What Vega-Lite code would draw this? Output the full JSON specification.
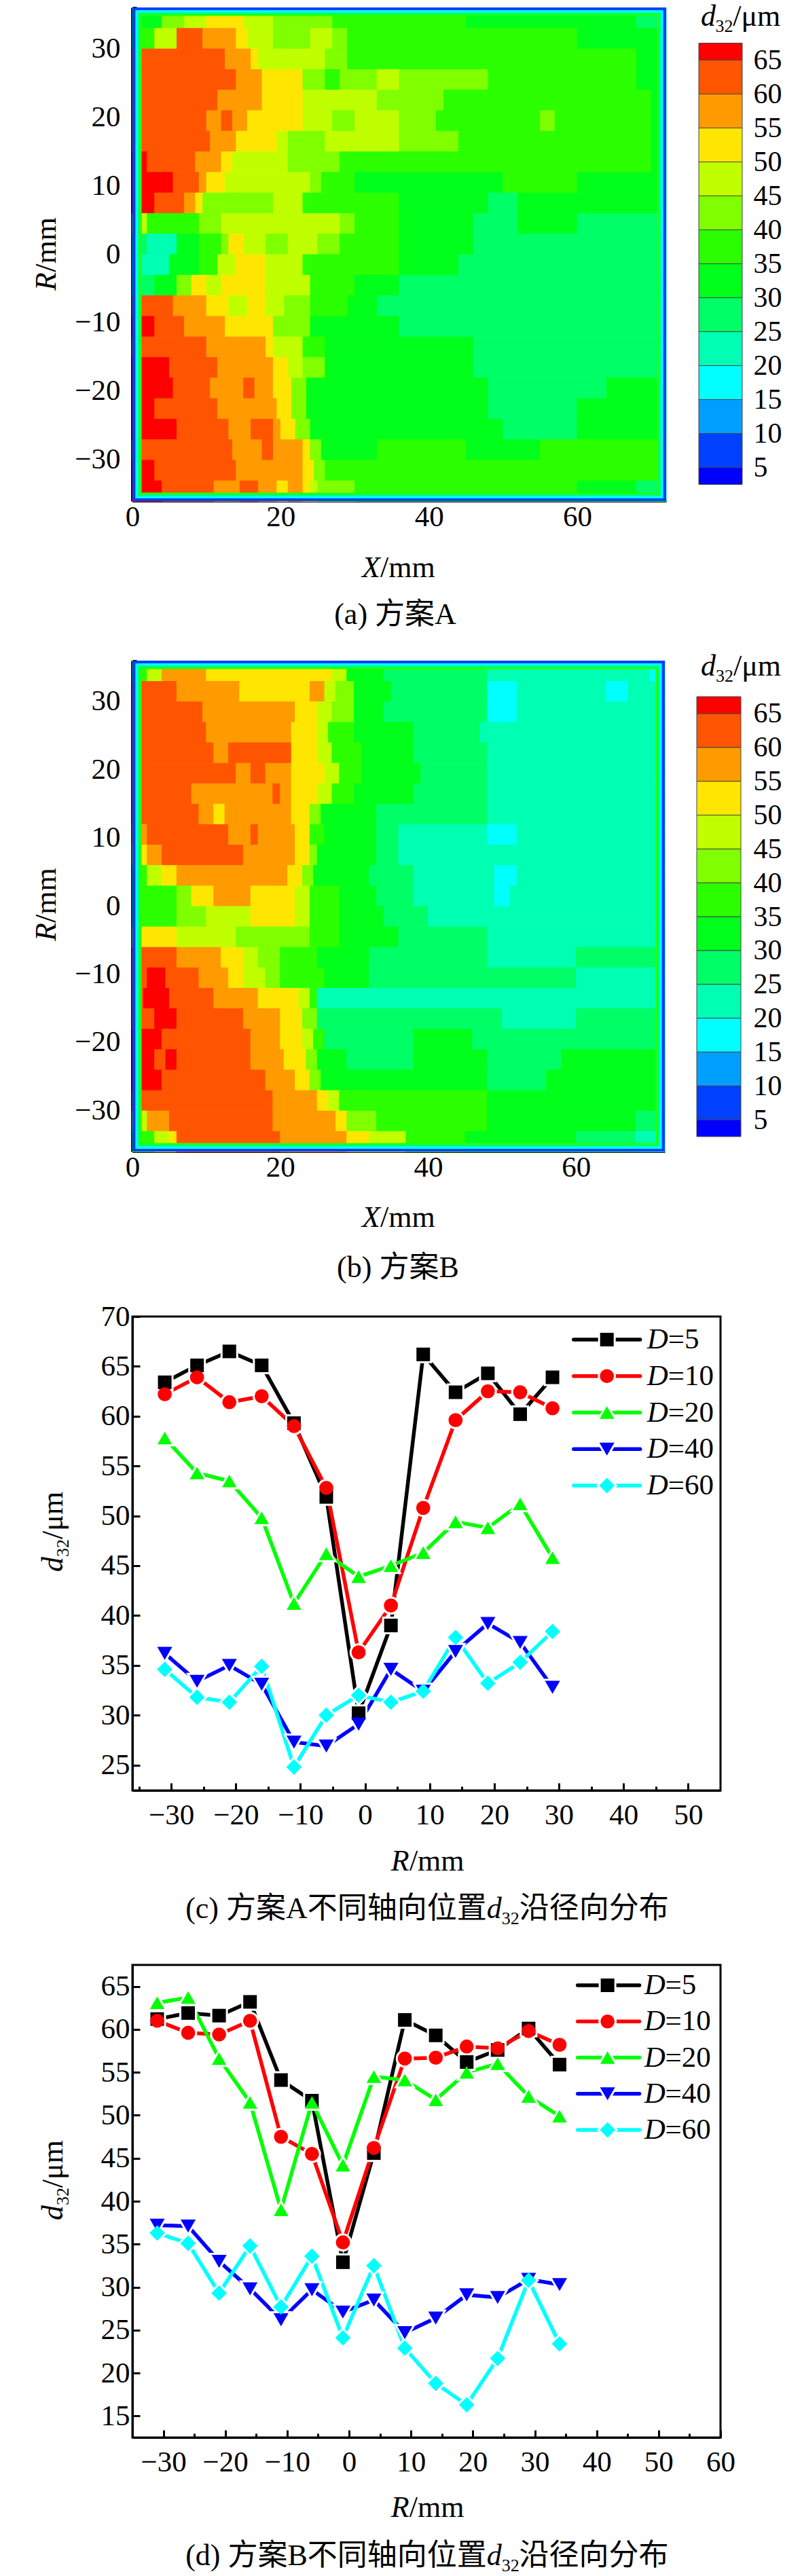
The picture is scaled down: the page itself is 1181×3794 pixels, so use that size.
{"$schema":"https://vega.github.io/schema/vega-lite/v6.json","background":"white","padding":{"left":30,"top":3,"right":0,"bottom":0},"spacing":0,"data":{"values":[{}]},
"config":{"view":{"stroke":null},"text":{"font":"Liberation Serif, Noto Sans CJK SC","fontSize":44,"baseline":"alphabetic","align":"left","color":"black"},"axis":{"labelFont":"Liberation Serif","labelFontSize":43,"labelColor":"black","domainColor":"black","tickColor":"black","tickWidth":3,"domainWidth":3,"grid":false,"title":null,"labelOverlap":false,"labelBound":false,"labelFlush":false,"zindex":1,"format":"d"}},
"datasets":{
"rticks":[{"t":30},{"t":20},{"t":10},{"t":0},{"t":-10},{"t":-20},{"t":-30}],
"heatA":[
{"x":0,"x2":4,"y":33,"v":32},{"x":4,"x2":7,"y":33,"v":42},{"x":7,"x2":10,"y":33,"v":47},{"x":10,"x2":15,"y":33,"v":52},{"x":15,"x2":19,"y":33,"v":47},{"x":19,"x2":27,"y":33,"v":42},{"x":27,"x2":45,"y":33,"v":37},{"x":45,"x2":68,"y":33,"v":32},{"x":68,"x2":72,"y":33,"v":27},
{"x":0,"x2":3,"y":30,"v":37},{"x":3,"x2":6,"y":30,"v":47},{"x":6,"x2":9.5,"y":30,"v":62},{"x":9.5,"x2":14,"y":30,"v":57},{"x":14,"x2":15.5,"y":30,"v":52},{"x":15.5,"x2":19,"y":30,"v":47},{"x":19,"x2":24,"y":30,"v":42},{"x":24,"x2":27,"y":30,"v":47},{"x":27,"x2":29,"y":30,"v":42},{"x":29,"x2":60,"y":30,"v":37},{"x":60,"x2":72,"y":30,"v":32},
{"x":0,"x2":12.5,"y":27,"v":62},{"x":12.5,"x2":16,"y":27,"v":57},{"x":16,"x2":17,"y":27,"v":52},{"x":17,"x2":26,"y":27,"v":47},{"x":26,"x2":29,"y":27,"v":42},{"x":29,"x2":68,"y":27,"v":37},{"x":68,"x2":72,"y":27,"v":32},
{"x":0,"x2":14,"y":24,"v":62},{"x":14,"x2":17.5,"y":24,"v":57},{"x":17.5,"x2":23,"y":24,"v":52},{"x":23,"x2":26,"y":24,"v":42},{"x":26,"x2":28,"y":24,"v":37},{"x":28,"x2":33,"y":24,"v":42},{"x":33,"x2":36,"y":24,"v":47},{"x":36,"x2":48,"y":24,"v":42},{"x":48,"x2":68,"y":24,"v":37},{"x":68,"x2":72,"y":24,"v":32},
{"x":0,"x2":11.5,"y":21,"v":62},{"x":11.5,"x2":17.5,"y":21,"v":57},{"x":17.5,"x2":23,"y":21,"v":52},{"x":23,"x2":33,"y":21,"v":47},{"x":33,"x2":42,"y":21,"v":42},{"x":42,"x2":70,"y":21,"v":37},{"x":70,"x2":72,"y":21,"v":32},
{"x":0,"x2":10,"y":18,"v":62},{"x":10,"x2":12,"y":18,"v":57},{"x":12,"x2":13.5,"y":18,"v":62},{"x":13.5,"x2":15.5,"y":18,"v":57},{"x":15.5,"x2":23,"y":18,"v":52},{"x":23,"x2":27,"y":18,"v":47},{"x":27,"x2":30,"y":18,"v":42},{"x":30,"x2":36,"y":18,"v":47},{"x":36,"x2":41,"y":18,"v":42},{"x":41,"x2":55,"y":18,"v":37},{"x":55,"x2":57,"y":18,"v":42},{"x":57,"x2":70,"y":18,"v":37},{"x":70,"x2":72,"y":18,"v":32},
{"x":0,"x2":10.5,"y":15,"v":62},{"x":10.5,"x2":14,"y":15,"v":57},{"x":14,"x2":19.5,"y":15,"v":52},{"x":19.5,"x2":21,"y":15,"v":47},{"x":21,"x2":26,"y":15,"v":42},{"x":26,"x2":36,"y":15,"v":47},{"x":36,"x2":44,"y":15,"v":42},{"x":44,"x2":70,"y":15,"v":37},{"x":70,"x2":72,"y":15,"v":32},
{"x":0,"x2":2,"y":12,"v":66},{"x":2,"x2":8.5,"y":12,"v":62},{"x":8.5,"x2":12,"y":12,"v":57},{"x":12,"x2":13.5,"y":12,"v":52},{"x":13.5,"x2":21,"y":12,"v":47},{"x":21,"x2":28,"y":12,"v":42},{"x":28,"x2":70,"y":12,"v":37},{"x":70,"x2":72,"y":12,"v":32},
{"x":0,"x2":5.5,"y":9,"v":66},{"x":5.5,"x2":9,"y":9,"v":62},{"x":9,"x2":10,"y":9,"v":57},{"x":10,"x2":12.5,"y":9,"v":52},{"x":12.5,"x2":24,"y":9,"v":47},{"x":24,"x2":25.5,"y":9,"v":42},{"x":25.5,"x2":30,"y":9,"v":37},{"x":30,"x2":50,"y":9,"v":32},{"x":50,"x2":60,"y":9,"v":37},{"x":60,"x2":72,"y":9,"v":32},
{"x":0,"x2":3,"y":6,"v":66},{"x":3,"x2":7,"y":6,"v":62},{"x":7,"x2":8.5,"y":6,"v":57},{"x":8.5,"x2":9.5,"y":6,"v":52},{"x":9.5,"x2":19,"y":6,"v":42},{"x":19,"x2":23,"y":6,"v":47},{"x":23,"x2":36,"y":6,"v":37},{"x":36,"x2":48,"y":6,"v":32},{"x":48,"x2":52,"y":6,"v":27},{"x":52,"x2":72,"y":6,"v":32},
{"x":0,"x2":2,"y":3,"v":47},{"x":2,"x2":9,"y":3,"v":37},{"x":9,"x2":12,"y":3,"v":42},{"x":12,"x2":28,"y":3,"v":47},{"x":28,"x2":30,"y":3,"v":42},{"x":30,"x2":36,"y":3,"v":37},{"x":36,"x2":46,"y":3,"v":32},{"x":46,"x2":52,"y":3,"v":27},{"x":52,"x2":60,"y":3,"v":32},{"x":60,"x2":72,"y":3,"v":27},
{"x":0,"x2":2,"y":0,"v":27},{"x":2,"x2":6,"y":0,"v":22},{"x":6,"x2":9,"y":0,"v":32},{"x":9,"x2":12,"y":0,"v":37},{"x":12,"x2":13,"y":0,"v":42},{"x":13,"x2":15,"y":0,"v":52},{"x":15,"x2":18,"y":0,"v":47},{"x":18,"x2":21,"y":0,"v":42},{"x":21,"x2":25,"y":0,"v":47},{"x":25,"x2":28,"y":0,"v":42},{"x":28,"x2":36,"y":0,"v":37},{"x":36,"x2":46,"y":0,"v":32},{"x":46,"x2":72,"y":0,"v":27},
{"x":0,"x2":5,"y":-3,"v":22},{"x":5,"x2":9,"y":-3,"v":32},{"x":9,"x2":11.5,"y":-3,"v":37},{"x":11.5,"x2":14,"y":-3,"v":47},{"x":14,"x2":18,"y":-3,"v":52},{"x":18,"x2":23,"y":-3,"v":47},{"x":23,"x2":36,"y":-3,"v":37},{"x":36,"x2":44,"y":-3,"v":32},{"x":44,"x2":72,"y":-3,"v":27},
{"x":0,"x2":3,"y":-6,"v":27},{"x":3,"x2":6,"y":-6,"v":32},{"x":6,"x2":8,"y":-6,"v":42},{"x":8,"x2":10,"y":-6,"v":52},{"x":10,"x2":12,"y":-6,"v":47},{"x":12,"x2":18,"y":-6,"v":52},{"x":18,"x2":24,"y":-6,"v":47},{"x":24,"x2":30,"y":-6,"v":37},{"x":30,"x2":36,"y":-6,"v":32},{"x":36,"x2":72,"y":-6,"v":27},
{"x":0,"x2":5.5,"y":-9,"v":62},{"x":5.5,"x2":10,"y":-9,"v":57},{"x":10,"x2":13,"y":-9,"v":52},{"x":13,"x2":15.5,"y":-9,"v":47},{"x":15.5,"x2":18,"y":-9,"v":52},{"x":18,"x2":20.5,"y":-9,"v":47},{"x":20.5,"x2":24,"y":-9,"v":42},{"x":24,"x2":29,"y":-9,"v":37},{"x":29,"x2":33,"y":-9,"v":32},{"x":33,"x2":72,"y":-9,"v":27},
{"x":0,"x2":3,"y":-12,"v":66},{"x":3,"x2":7,"y":-12,"v":62},{"x":7,"x2":12.5,"y":-12,"v":57},{"x":12.5,"x2":19,"y":-12,"v":52},{"x":19,"x2":24,"y":-12,"v":42},{"x":24,"x2":36,"y":-12,"v":32},{"x":36,"x2":72,"y":-12,"v":27},
{"x":0,"x2":10,"y":-15,"v":62},{"x":10,"x2":18,"y":-15,"v":57},{"x":18,"x2":19,"y":-15,"v":52},{"x":19,"x2":23,"y":-15,"v":47},{"x":23,"x2":26,"y":-15,"v":37},{"x":26,"x2":46,"y":-15,"v":32},{"x":46,"x2":72,"y":-15,"v":27},
{"x":0,"x2":5,"y":-18,"v":66},{"x":5,"x2":11.5,"y":-18,"v":62},{"x":11.5,"x2":19,"y":-18,"v":57},{"x":19,"x2":21,"y":-18,"v":52},{"x":21,"x2":23,"y":-18,"v":47},{"x":23,"x2":26,"y":-18,"v":42},{"x":26,"x2":46,"y":-18,"v":32},{"x":46,"x2":72,"y":-18,"v":27},
{"x":0,"x2":5.5,"y":-21,"v":66},{"x":5.5,"x2":10.5,"y":-21,"v":62},{"x":10.5,"x2":15,"y":-21,"v":57},{"x":15,"x2":16.5,"y":-21,"v":62},{"x":16.5,"x2":19,"y":-21,"v":57},{"x":19,"x2":21.5,"y":-21,"v":52},{"x":21.5,"x2":23.5,"y":-21,"v":42},{"x":23.5,"x2":48,"y":-21,"v":32},{"x":48,"x2":64,"y":-21,"v":27},{"x":64,"x2":72,"y":-21,"v":32},
{"x":0,"x2":3,"y":-24,"v":66},{"x":3,"x2":11.5,"y":-24,"v":62},{"x":11.5,"x2":19.5,"y":-24,"v":57},{"x":19.5,"x2":21.5,"y":-24,"v":52},{"x":21.5,"x2":23.5,"y":-24,"v":42},{"x":23.5,"x2":48,"y":-24,"v":32},{"x":48,"x2":60,"y":-24,"v":27},{"x":60,"x2":72,"y":-24,"v":32},
{"x":0,"x2":6,"y":-27,"v":66},{"x":6,"x2":13,"y":-27,"v":62},{"x":13,"x2":16,"y":-27,"v":57},{"x":16,"x2":19,"y":-27,"v":62},{"x":19,"x2":20,"y":-27,"v":57},{"x":20,"x2":22,"y":-27,"v":52},{"x":22,"x2":24,"y":-27,"v":42},{"x":24,"x2":50,"y":-27,"v":32},{"x":50,"x2":60,"y":-27,"v":27},{"x":60,"x2":72,"y":-27,"v":32},
{"x":0,"x2":13.5,"y":-30,"v":62},{"x":13.5,"x2":17.5,"y":-30,"v":57},{"x":17.5,"x2":19,"y":-30,"v":62},{"x":19,"x2":23,"y":-30,"v":57},{"x":23,"x2":24,"y":-30,"v":52},{"x":24,"x2":25.5,"y":-30,"v":42},{"x":25.5,"x2":33,"y":-30,"v":32},{"x":33,"x2":45,"y":-30,"v":37},{"x":45,"x2":55,"y":-30,"v":32},{"x":55,"x2":72,"y":-30,"v":37},
{"x":0,"x2":3,"y":-33,"v":66},{"x":3,"x2":14,"y":-33,"v":62},{"x":14,"x2":23,"y":-33,"v":57},{"x":23,"x2":24.5,"y":-33,"v":52},{"x":24.5,"x2":26,"y":-33,"v":42},{"x":26,"x2":72,"y":-33,"v":37},
{"x":0,"x2":4,"y":-36,"v":66},{"x":4,"x2":11,"y":-36,"v":62},{"x":11,"x2":14.5,"y":-36,"v":57},{"x":14.5,"x2":17,"y":-36,"v":62},{"x":17,"x2":19.5,"y":-36,"v":57},{"x":19.5,"x2":21,"y":-36,"v":52},{"x":21,"x2":23,"y":-36,"v":57},{"x":23,"x2":24,"y":-36,"v":52},{"x":24,"x2":25,"y":-36,"v":47},{"x":25,"x2":30,"y":-36,"v":42},{"x":30,"x2":60,"y":-36,"v":37},{"x":60,"x2":68,"y":-36,"v":32},{"x":68,"x2":72,"y":-36,"v":27}],
"heatB":[
{"x":0,"x2":2,"y":33,"v":37},{"x":2,"x2":4,"y":33,"v":47},{"x":4,"x2":10,"y":33,"v":57},{"x":10,"x2":27,"y":33,"v":52},{"x":27,"x2":29,"y":33,"v":47},{"x":29,"x2":34,"y":33,"v":32},{"x":34,"x2":48,"y":33,"v":27},{"x":48,"x2":70,"y":33,"v":22},{"x":70,"x2":72,"y":33,"v":17},
{"x":0,"x2":6,"y":30,"v":62},{"x":6,"x2":14.5,"y":30,"v":57},{"x":14.5,"x2":24,"y":30,"v":52},{"x":24,"x2":26,"y":30,"v":57},{"x":26,"x2":27.5,"y":30,"v":47},{"x":27.5,"x2":30,"y":30,"v":42},{"x":30,"x2":35,"y":30,"v":32},{"x":35,"x2":48,"y":30,"v":27},{"x":48,"x2":52,"y":30,"v":17},{"x":52,"x2":64,"y":30,"v":22},{"x":64,"x2":67,"y":30,"v":17},{"x":67,"x2":72,"y":30,"v":22},
{"x":0,"x2":9.5,"y":27,"v":62},{"x":9.5,"x2":22,"y":27,"v":57},{"x":22,"x2":25,"y":27,"v":52},{"x":25,"x2":27,"y":27,"v":47},{"x":27,"x2":30,"y":27,"v":42},{"x":30,"x2":34,"y":27,"v":32},{"x":34,"x2":48,"y":27,"v":27},{"x":48,"x2":52,"y":27,"v":17},{"x":52,"x2":72,"y":27,"v":22},
{"x":0,"x2":10,"y":24,"v":62},{"x":10,"x2":21.5,"y":24,"v":57},{"x":21.5,"x2":25,"y":24,"v":52},{"x":25,"x2":26.5,"y":24,"v":47},{"x":26.5,"x2":30,"y":24,"v":37},{"x":30,"x2":38,"y":24,"v":32},{"x":38,"x2":47,"y":24,"v":27},{"x":47,"x2":72,"y":24,"v":22},
{"x":0,"x2":11,"y":21,"v":62},{"x":11,"x2":13,"y":21,"v":57},{"x":13,"x2":21.5,"y":21,"v":62},{"x":21.5,"x2":25,"y":21,"v":52},{"x":25,"x2":27,"y":21,"v":47},{"x":27,"x2":31,"y":21,"v":37},{"x":31,"x2":38,"y":21,"v":32},{"x":38,"x2":48,"y":21,"v":27},{"x":48,"x2":72,"y":21,"v":22},
{"x":0,"x2":14,"y":18,"v":62},{"x":14,"x2":16,"y":18,"v":57},{"x":16,"x2":18,"y":18,"v":62},{"x":18,"x2":21.5,"y":18,"v":57},{"x":21.5,"x2":26,"y":18,"v":52},{"x":26,"x2":28,"y":18,"v":47},{"x":28,"x2":31,"y":18,"v":37},{"x":31,"x2":39,"y":18,"v":32},{"x":39,"x2":48,"y":18,"v":27},{"x":48,"x2":72,"y":18,"v":22},
{"x":0,"x2":8,"y":15,"v":62},{"x":8,"x2":19,"y":15,"v":57},{"x":19,"x2":20,"y":15,"v":62},{"x":20,"x2":21.5,"y":15,"v":57},{"x":21.5,"x2":25,"y":15,"v":52},{"x":25,"x2":27,"y":15,"v":47},{"x":27,"x2":30,"y":15,"v":37},{"x":30,"x2":38,"y":15,"v":32},{"x":38,"x2":48,"y":15,"v":27},{"x":48,"x2":72,"y":15,"v":22},
{"x":0,"x2":9,"y":12,"v":62},{"x":9,"x2":11,"y":12,"v":57},{"x":11,"x2":12.5,"y":12,"v":52},{"x":12.5,"x2":21.5,"y":12,"v":57},{"x":21.5,"x2":24,"y":12,"v":52},{"x":24,"x2":25.5,"y":12,"v":42},{"x":25.5,"x2":33,"y":12,"v":32},{"x":33,"x2":48,"y":12,"v":27},{"x":48,"x2":72,"y":12,"v":22},
{"x":0,"x2":2,"y":9,"v":57},{"x":2,"x2":13,"y":9,"v":62},{"x":13,"x2":16,"y":9,"v":57},{"x":16,"x2":17,"y":9,"v":62},{"x":17,"x2":22,"y":9,"v":57},{"x":22,"x2":24,"y":9,"v":52},{"x":24,"x2":26,"y":9,"v":37},{"x":26,"x2":33,"y":9,"v":32},{"x":33,"x2":36,"y":9,"v":27},{"x":36,"x2":48,"y":9,"v":22},{"x":48,"x2":52,"y":9,"v":17},{"x":52,"x2":72,"y":9,"v":22},
{"x":0,"x2":2,"y":6,"v":52},{"x":2,"x2":4,"y":6,"v":57},{"x":4,"x2":15,"y":6,"v":62},{"x":15,"x2":22,"y":6,"v":57},{"x":22,"x2":24,"y":6,"v":52},{"x":24,"x2":25,"y":6,"v":42},{"x":25,"x2":33,"y":6,"v":32},{"x":33,"x2":36,"y":6,"v":27},{"x":36,"x2":72,"y":6,"v":22},
{"x":0,"x2":2,"y":3,"v":37},{"x":2,"x2":4,"y":3,"v":47},{"x":4,"x2":6,"y":3,"v":52},{"x":6,"x2":21,"y":3,"v":57},{"x":21,"x2":23,"y":3,"v":52},{"x":23,"x2":24.5,"y":3,"v":42},{"x":24.5,"x2":32,"y":3,"v":32},{"x":32,"x2":38,"y":3,"v":27},{"x":38,"x2":49,"y":3,"v":22},{"x":49,"x2":52,"y":3,"v":17},{"x":52,"x2":72,"y":3,"v":22},
{"x":0,"x2":6,"y":0,"v":37},{"x":6,"x2":8,"y":0,"v":42},{"x":8,"x2":11,"y":0,"v":52},{"x":11,"x2":16,"y":0,"v":57},{"x":16,"x2":22,"y":0,"v":52},{"x":22,"x2":24,"y":0,"v":47},{"x":24,"x2":28,"y":0,"v":37},{"x":28,"x2":33,"y":0,"v":32},{"x":33,"x2":38,"y":0,"v":27},{"x":38,"x2":49,"y":0,"v":22},{"x":49,"x2":51,"y":0,"v":17},{"x":51,"x2":72,"y":0,"v":22},
{"x":0,"x2":6,"y":-3,"v":37},{"x":6,"x2":10,"y":-3,"v":42},{"x":10,"x2":16,"y":-3,"v":47},{"x":16,"x2":22,"y":-3,"v":52},{"x":22,"x2":24,"y":-3,"v":47},{"x":24,"x2":28,"y":-3,"v":37},{"x":28,"x2":34,"y":-3,"v":32},{"x":34,"x2":40,"y":-3,"v":27},{"x":40,"x2":72,"y":-3,"v":22},
{"x":0,"x2":6,"y":-6,"v":52},{"x":6,"x2":14,"y":-6,"v":47},{"x":14,"x2":24,"y":-6,"v":42},{"x":24,"x2":28,"y":-6,"v":37},{"x":28,"x2":36,"y":-6,"v":32},{"x":36,"x2":48,"y":-6,"v":27},{"x":48,"x2":72,"y":-6,"v":22},
{"x":0,"x2":6,"y":-9,"v":62},{"x":6,"x2":12,"y":-9,"v":57},{"x":12,"x2":15,"y":-9,"v":52},{"x":15,"x2":17,"y":-9,"v":47},{"x":17,"x2":20,"y":-9,"v":42},{"x":20,"x2":25,"y":-9,"v":37},{"x":25,"x2":32,"y":-9,"v":32},{"x":32,"x2":48,"y":-9,"v":27},{"x":48,"x2":60,"y":-9,"v":22},{"x":60,"x2":72,"y":-9,"v":27},
{"x":0,"x2":2,"y":-12,"v":62},{"x":2,"x2":4.5,"y":-12,"v":66},{"x":4.5,"x2":9,"y":-12,"v":62},{"x":9,"x2":13,"y":-12,"v":57},{"x":13,"x2":15,"y":-12,"v":52},{"x":15,"x2":18,"y":-12,"v":47},{"x":18,"x2":20,"y":-12,"v":42},{"x":20,"x2":26,"y":-12,"v":37},{"x":26,"x2":32,"y":-12,"v":32},{"x":32,"x2":60,"y":-12,"v":27},{"x":60,"x2":72,"y":-12,"v":22},
{"x":0,"x2":1.5,"y":-15,"v":62},{"x":1.5,"x2":5,"y":-15,"v":66},{"x":5,"x2":11,"y":-15,"v":62},{"x":11,"x2":17,"y":-15,"v":57},{"x":17,"x2":22.5,"y":-15,"v":52},{"x":22.5,"x2":24,"y":-15,"v":47},{"x":24,"x2":25,"y":-15,"v":37},{"x":25,"x2":72,"y":-15,"v":22},
{"x":0,"x2":3,"y":-18,"v":62},{"x":3,"x2":6,"y":-18,"v":66},{"x":6,"x2":15,"y":-18,"v":62},{"x":15,"x2":20,"y":-18,"v":57},{"x":20,"x2":23,"y":-18,"v":52},{"x":23,"x2":25,"y":-18,"v":42},{"x":25,"x2":50,"y":-18,"v":27},{"x":50,"x2":60,"y":-18,"v":22},{"x":60,"x2":72,"y":-18,"v":27},
{"x":0,"x2":4,"y":-21,"v":66},{"x":4,"x2":16,"y":-21,"v":62},{"x":16,"x2":20,"y":-21,"v":57},{"x":20,"x2":23,"y":-21,"v":52},{"x":23,"x2":24.5,"y":-21,"v":47},{"x":24.5,"x2":26,"y":-21,"v":37},{"x":26,"x2":38,"y":-21,"v":27},{"x":38,"x2":46,"y":-21,"v":32},{"x":46,"x2":72,"y":-21,"v":27},
{"x":0,"x2":3,"y":-24,"v":66},{"x":3,"x2":4.5,"y":-24,"v":62},{"x":4.5,"x2":6,"y":-24,"v":66},{"x":6,"x2":16,"y":-24,"v":62},{"x":16,"x2":20.5,"y":-24,"v":57},{"x":20.5,"x2":23.5,"y":-24,"v":52},{"x":23.5,"x2":25,"y":-24,"v":42},{"x":25,"x2":29,"y":-24,"v":32},{"x":29,"x2":38,"y":-24,"v":27},{"x":38,"x2":48,"y":-24,"v":32},{"x":48,"x2":58,"y":-24,"v":27},{"x":58,"x2":72,"y":-24,"v":32},
{"x":0,"x2":4,"y":-27,"v":66},{"x":4,"x2":18,"y":-27,"v":62},{"x":18,"x2":22,"y":-27,"v":57},{"x":22,"x2":24,"y":-27,"v":52},{"x":24,"x2":25.5,"y":-27,"v":42},{"x":25.5,"x2":48,"y":-27,"v":32},{"x":48,"x2":56,"y":-27,"v":27},{"x":56,"x2":72,"y":-27,"v":32},
{"x":0,"x2":19,"y":-30,"v":62},{"x":19,"x2":25,"y":-30,"v":57},{"x":25,"x2":26.5,"y":-30,"v":52},{"x":26.5,"x2":28,"y":-30,"v":47},{"x":28,"x2":48,"y":-30,"v":37},{"x":48,"x2":72,"y":-30,"v":32},
{"x":0,"x2":2,"y":-33,"v":47},{"x":2,"x2":5,"y":-33,"v":57},{"x":5,"x2":19,"y":-33,"v":62},{"x":19,"x2":27.5,"y":-33,"v":57},{"x":27.5,"x2":29,"y":-33,"v":52},{"x":29,"x2":33,"y":-33,"v":42},{"x":33,"x2":48,"y":-33,"v":37},{"x":48,"x2":68,"y":-33,"v":32},{"x":68,"x2":72,"y":-33,"v":27},
{"x":0,"x2":3,"y":-36,"v":37},{"x":3,"x2":5,"y":-36,"v":47},{"x":5,"x2":6,"y":-36,"v":52},{"x":6,"x2":20,"y":-36,"v":62},{"x":20,"x2":29,"y":-36,"v":57},{"x":29,"x2":32,"y":-36,"v":52},{"x":32,"x2":37,"y":-36,"v":47},{"x":37,"x2":45,"y":-36,"v":37},{"x":45,"x2":60,"y":-36,"v":32},{"x":60,"x2":68,"y":-36,"v":27},{"x":68,"x2":72,"y":-36,"v":22}],
"rim":[{"x":0,"x2":1.25,"y":-36,"y2":36,"v":37},{"x":70.75,"x2":72,"y":-36,"y2":36,"v":37},{"x":0,"x2":72,"y":34.75,"y2":36,"v":37},{"x":0,"x2":72,"y":-36,"y2":-34.75,"v":37},{"x":0,"x2":1.05,"y":-36,"y2":36,"v":27},{"x":70.95,"x2":72,"y":-36,"y2":36,"v":27},{"x":0,"x2":72,"y":34.95,"y2":36,"v":27},{"x":0,"x2":72,"y":-36,"y2":-34.95,"v":27},{"x":0,"x2":0.75,"y":-36,"y2":36,"v":17},{"x":71.25,"x2":72,"y":-36,"y2":36,"v":17},{"x":0,"x2":72,"y":35.25,"y2":36,"v":17},{"x":0,"x2":72,"y":-36,"y2":-35.25,"v":17},{"x":0,"x2":0.4,"y":-36,"y2":36,"v":7},{"x":71.6,"x2":72,"y":-36,"y2":36,"v":7},{"x":0,"x2":72,"y":35.6,"y2":36,"v":7},{"x":0,"x2":72,"y":-36,"y2":-35.6,"v":7}],
"bands":[{"lo":2.5,"hi":5,"v":3},{"lo":5,"hi":10,"v":7},{"lo":10,"hi":15,"v":12},{"lo":15,"hi":20,"v":17},{"lo":20,"hi":25,"v":22},{"lo":25,"hi":30,"v":27},{"lo":30,"hi":35,"v":32},{"lo":35,"hi":40,"v":37},{"lo":40,"hi":45,"v":42},{"lo":45,"hi":50,"v":47},{"lo":50,"hi":55,"v":52},{"lo":55,"hi":60,"v":57},{"lo":60,"hi":65,"v":62},{"lo":65,"hi":67.5,"v":66}],
"keys":[{"D":"D=5","eq":"=5"},{"D":"D=10","eq":"=10"},{"D":"D=20","eq":"=20"},{"D":"D=40","eq":"=40"},{"D":"D=60","eq":"=60"}],
"lineC":[{"R":-31,"d":63.4,"D":"D=5"},{"R":-26,"d":65.1,"D":"D=5"},{"R":-21,"d":66.5,"D":"D=5"},{"R":-16,"d":65.1,"D":"D=5"},{"R":-11,"d":59.3,"D":"D=5"},{"R":-6,"d":51.9,"D":"D=5"},{"R":-1,"d":30.2,"D":"D=5"},{"R":4,"d":39,"D":"D=5"},{"R":9,"d":66.2,"D":"D=5"},{"R":14,"d":62.4,"D":"D=5"},{"R":19,"d":64.3,"D":"D=5"},{"R":24,"d":60.2,"D":"D=5"},{"R":29,"d":63.9,"D":"D=5"},
{"R":-31,"d":62.2,"D":"D=10"},{"R":-26,"d":63.9,"D":"D=10"},{"R":-21,"d":61.4,"D":"D=10"},{"R":-16,"d":62,"D":"D=10"},{"R":-11,"d":59,"D":"D=10"},{"R":-6,"d":52.8,"D":"D=10"},{"R":-1,"d":36.3,"D":"D=10"},{"R":4,"d":41,"D":"D=10"},{"R":9,"d":50.8,"D":"D=10"},{"R":14,"d":59.6,"D":"D=10"},{"R":19,"d":62.5,"D":"D=10"},{"R":24,"d":62.4,"D":"D=10"},{"R":29,"d":60.8,"D":"D=10"},
{"R":-31,"d":57.8,"D":"D=20"},{"R":-26,"d":54.3,"D":"D=20"},{"R":-21,"d":53.5,"D":"D=20"},{"R":-16,"d":49.8,"D":"D=20"},{"R":-11,"d":41.2,"D":"D=20"},{"R":-6,"d":46.2,"D":"D=20"},{"R":-1,"d":43.9,"D":"D=20"},{"R":4,"d":45,"D":"D=20"},{"R":9,"d":46.3,"D":"D=20"},{"R":14,"d":49.4,"D":"D=20"},{"R":19,"d":48.8,"D":"D=20"},{"R":24,"d":51.2,"D":"D=20"},{"R":29,"d":45.8,"D":"D=20"},
{"R":-31,"d":36.2,"D":"D=40"},{"R":-26,"d":33.4,"D":"D=40"},{"R":-21,"d":35,"D":"D=40"},{"R":-16,"d":33.1,"D":"D=40"},{"R":-11,"d":27.3,"D":"D=40"},{"R":-6,"d":26.9,"D":"D=40"},{"R":-1,"d":29.1,"D":"D=40"},{"R":4,"d":34.6,"D":"D=40"},{"R":9,"d":32.4,"D":"D=40"},{"R":14,"d":36.4,"D":"D=40"},{"R":19,"d":39.2,"D":"D=40"},{"R":24,"d":37.3,"D":"D=40"},{"R":29,"d":32.8,"D":"D=40"},
{"R":-31,"d":34.6,"D":"D=60"},{"R":-26,"d":31.8,"D":"D=60"},{"R":-21,"d":31.3,"D":"D=60"},{"R":-16,"d":34.9,"D":"D=60"},{"R":-11,"d":24.8,"D":"D=60"},{"R":-6,"d":30,"D":"D=60"},{"R":-1,"d":32,"D":"D=60"},{"R":4,"d":31.3,"D":"D=60"},{"R":9,"d":32.4,"D":"D=60"},{"R":14,"d":37.8,"D":"D=60"},{"R":19,"d":33.2,"D":"D=60"},{"R":24,"d":35.3,"D":"D=60"},{"R":29,"d":38.4,"D":"D=60"}],
"lineD":[{"R":-31,"d":61.2,"D":"D=5"},{"R":-26,"d":61.9,"D":"D=5"},{"R":-21,"d":61.6,"D":"D=5"},{"R":-16,"d":63.2,"D":"D=5"},{"R":-11,"d":54.1,"D":"D=5"},{"R":-6,"d":51.7,"D":"D=5"},{"R":-1,"d":32.9,"D":"D=5"},{"R":4,"d":45.6,"D":"D=5"},{"R":9,"d":61.1,"D":"D=5"},{"R":14,"d":59.3,"D":"D=5"},{"R":19,"d":56.2,"D":"D=5"},{"R":24,"d":57.6,"D":"D=5"},{"R":29,"d":60.1,"D":"D=5"},{"R":34,"d":55.9,"D":"D=5"},
{"R":-31,"d":61,"D":"D=10"},{"R":-26,"d":59.6,"D":"D=10"},{"R":-21,"d":59.4,"D":"D=10"},{"R":-16,"d":61,"D":"D=10"},{"R":-11,"d":47.5,"D":"D=10"},{"R":-6,"d":45.5,"D":"D=10"},{"R":-1,"d":35.2,"D":"D=10"},{"R":4,"d":46.2,"D":"D=10"},{"R":9,"d":56.6,"D":"D=10"},{"R":14,"d":56.7,"D":"D=10"},{"R":19,"d":58,"D":"D=10"},{"R":24,"d":57.8,"D":"D=10"},{"R":29,"d":59.8,"D":"D=10"},{"R":34,"d":58.2,"D":"D=10"},
{"R":-31,"d":63.1,"D":"D=20"},{"R":-26,"d":63.7,"D":"D=20"},{"R":-21,"d":56.6,"D":"D=20"},{"R":-16,"d":51.5,"D":"D=20"},{"R":-11,"d":39,"D":"D=20"},{"R":-6,"d":51.5,"D":"D=20"},{"R":-1,"d":44.2,"D":"D=20"},{"R":4,"d":54.5,"D":"D=20"},{"R":9,"d":54.1,"D":"D=20"},{"R":14,"d":51.8,"D":"D=20"},{"R":19,"d":55,"D":"D=20"},{"R":24,"d":56,"D":"D=20"},{"R":29,"d":52.2,"D":"D=20"},{"R":34,"d":49.9,"D":"D=20"},
{"R":-31,"d":37.2,"D":"D=40"},{"R":-26,"d":37.1,"D":"D=40"},{"R":-21,"d":33,"D":"D=40"},{"R":-16,"d":29.8,"D":"D=40"},{"R":-11,"d":26.2,"D":"D=40"},{"R":-6,"d":29.7,"D":"D=40"},{"R":-1,"d":27.1,"D":"D=40"},{"R":4,"d":28.5,"D":"D=40"},{"R":9,"d":24.7,"D":"D=40"},{"R":14,"d":26.4,"D":"D=40"},{"R":19,"d":29.1,"D":"D=40"},{"R":24,"d":28.8,"D":"D=40"},{"R":29,"d":30.9,"D":"D=40"},{"R":34,"d":30.3,"D":"D=40"},
{"R":-31,"d":36.3,"D":"D=60"},{"R":-26,"d":35.1,"D":"D=60"},{"R":-21,"d":29.3,"D":"D=60"},{"R":-16,"d":34.8,"D":"D=60"},{"R":-11,"d":27.7,"D":"D=60"},{"R":-6,"d":33.6,"D":"D=60"},{"R":-1,"d":24.1,"D":"D=60"},{"R":4,"d":32.5,"D":"D=60"},{"R":9,"d":22.9,"D":"D=60"},{"R":14,"d":18.8,"D":"D=60"},{"R":19,"d":16.3,"D":"D=60"},{"R":24,"d":21.7,"D":"D=60"},{"R":29,"d":30.8,"D":"D=60"},{"R":34,"d":23.4,"D":"D=60"}]},
"vconcat":[
{"spacing":46,"hconcat":[
{"width":786,"height":727,"layer":[
{"mark":{"type":"rule","stroke":"white"},"encoding":{"x":{"datum":-14.93}}},
{"data":{"name":"heatA"},"mark":{"type":"rect","strokeWidth":1},"encoding":{"x":{"field":"x","type":"quantitative","scale":{"domain":[0,72],"nice":false},"axis":{"values":[0,5,10,15,20,25,30,35,40,45,50,55,60,65,70],"domainWidth":3,"tickSize":{"condition":{"test":"datum.value%20==0","value":-10},"value":-6},"labelPadding":12,"labelExpr":"datum.value%20==0?datum.label:''"}},"x2":{"field":"x2"},"y":{"field":"y","type":"quantitative","bin":{"binned":true,"step":3},"scale":{"domain":[-36,36],"nice":false},"axis":{"values":[-36,-34,-32,-30,-28,-26,-24,-22,-20,-18,-16,-14,-12,-10,-8,-6,-4,-2,0,2,4,6,8,10,12,14,16,18,20,22,24,26,28,30,32,34,36],"domainWidth":5,"labels":false,"tickSize":{"condition":{"test":"datum.value%10==0","value":-10},"value":-6}}},"color":{"field":"v","type":"quantitative","legend":null,"scale":{"type":"threshold","domain":[5,10,15,20,25,30,35,40,45,50,55,60,65],"range":["#0000ff","#0040ff","#009fff","#00ffff","#00ffb3","#00ff66","#00ff1a","#2bff00","#7fff00","#c0ff00","#ffe600","#ff9b00","#ff5500","#ff0000"]}},"stroke":{"field":"v","type":"quantitative","legend":null,"scale":{"type":"threshold","domain":[5,10,15,20,25,30,35,40,45,50,55,60,65],"range":["#0000ff","#0040ff","#009fff","#00ffff","#00ffb3","#00ff66","#00ff1a","#2bff00","#7fff00","#c0ff00","#ffe600","#ff9b00","#ff5500","#ff0000"]}}}},
{"data":{"name":"rim"},"mark":{"type":"rect"},"encoding":{"x":{"field":"x","type":"quantitative"},"x2":{"field":"x2"},"y":{"field":"y","type":"quantitative"},"y2":{"field":"y2"},"color":{"field":"v","type":"quantitative","legend":null,"scale":{"type":"threshold","domain":[5,10,15,20,25,30,35,40,45,50,55,60,65],"range":["#0000ff","#0040ff","#009fff","#00ffff","#00ffb3","#00ff66","#00ff1a","#2bff00","#7fff00","#c0ff00","#ffe600","#ff9b00","#ff5500","#ff0000"]}}}},
{"data":{"name":"rticks"},"mark":{"type":"text","align":"right","baseline":"middle","fontSize":43},"encoding":{"x":{"datum":-1.6},"y":{"field":"t","type":"quantitative"},"text":{"field":"t","type":"quantitative","format":"d"}}},
{"mark":{"type":"text","text":"X","fontStyle":"italic"},"encoding":{"x":{"datum":30.96},"y":{"datum":-47.09}}},
{"mark":{"type":"text","text":"/mm"},"encoding":{"x":{"datum":33.43},"y":{"datum":-47.09}}},
{"mark":{"type":"text","text":"(a) 方案A","align":"center"},"encoding":{"x":{"datum":35.45},"y":{"datum":-53.93}}},
{"mark":{"type":"text","text":"R","fontStyle":"italic","angle":270},"encoding":{"x":{"datum":-10.35},"y":{"datum":-5.3}}},
{"mark":{"type":"text","text":"/mm","angle":270},"encoding":{"x":{"datum":-10.35},"y":{"datum":-2.6}}}]},
{"width":64,"height":727,"layer":[
{"data":{"name":"bands"},"mark":{"type":"rect","stroke":"#444","strokeWidth":1},"encoding":{"y":{"field":"lo","type":"quantitative","scale":{"domain":[0.05,72.75],"nice":false,"zero":false},"axis":{"orient":"right","values":[5,10,15,20,25,30,35,40,45,50,55,60,65],"ticks":false,"domain":false,"labelFontSize":42,"labelPadding":16}},"y2":{"field":"hi"},"color":{"field":"v","type":"quantitative","legend":null,"scale":{"type":"threshold","domain":[5,10,15,20,25,30,35,40,45,50,55,60,65],"range":["#0000ff","#0040ff","#009fff","#00ffff","#00ffb3","#00ff66","#00ff1a","#2bff00","#7fff00","#c0ff00","#ffe600","#ff9b00","#ff5500","#ff0000"]}}}},
{"mark":{"type":"text","text":"d","fontStyle":"italic"},"encoding":{"x":{"datum":3,"scale":{"domain":[0,64]},"axis":null},"y":{"datum":70.05}}},
{"mark":{"type":"text","text":"32","fontSize":26},"encoding":{"x":{"datum":25},"y":{"datum":69.18}}},
{"mark":{"type":"text","text":"/μm"},"encoding":{"x":{"datum":51},"y":{"datum":70.05}}}]}]},
{"spacing":45,"hconcat":[
{"width":784,"height":723,"layer":[
{"mark":{"type":"rule","stroke":"white"},"encoding":{"x":{"datum":-14.97}}},
{"mark":{"type":"rule","stroke":"white"},"encoding":{"y":{"datum":40.28}}},
{"data":{"name":"heatB"},"mark":{"type":"rect","strokeWidth":1},"encoding":{"x":{"field":"x","type":"quantitative","scale":{"domain":[0,72],"nice":false},"axis":{"values":[0,5,10,15,20,25,30,35,40,45,50,55,60,65,70],"domainWidth":3,"tickSize":{"condition":{"test":"datum.value%20==0","value":-10},"value":-6},"labelPadding":12,"labelExpr":"datum.value%20==0?datum.label:''"}},"x2":{"field":"x2"},"y":{"field":"y","type":"quantitative","bin":{"binned":true,"step":3},"scale":{"domain":[-36,36],"nice":false},"axis":{"values":[-36,-34,-32,-30,-28,-26,-24,-22,-20,-18,-16,-14,-12,-10,-8,-6,-4,-2,0,2,4,6,8,10,12,14,16,18,20,22,24,26,28,30,32,34,36],"domainWidth":5,"labels":false,"tickSize":{"condition":{"test":"datum.value%10==0","value":-10},"value":-6}}},"color":{"field":"v","type":"quantitative","legend":null,"scale":{"type":"threshold","domain":[5,10,15,20,25,30,35,40,45,50,55,60,65],"range":["#0000ff","#0040ff","#009fff","#00ffff","#00ffb3","#00ff66","#00ff1a","#2bff00","#7fff00","#c0ff00","#ffe600","#ff9b00","#ff5500","#ff0000"]}},"stroke":{"field":"v","type":"quantitative","legend":null,"scale":{"type":"threshold","domain":[5,10,15,20,25,30,35,40,45,50,55,60,65],"range":["#0000ff","#0040ff","#009fff","#00ffff","#00ffb3","#00ff66","#00ff1a","#2bff00","#7fff00","#c0ff00","#ffe600","#ff9b00","#ff5500","#ff0000"]}}}},
{"data":{"name":"rim"},"mark":{"type":"rect"},"encoding":{"x":{"field":"x","type":"quantitative"},"x2":{"field":"x2"},"y":{"field":"y","type":"quantitative"},"y2":{"field":"y2"},"color":{"field":"v","type":"quantitative","legend":null,"scale":{"type":"threshold","domain":[5,10,15,20,25,30,35,40,45,50,55,60,65],"range":["#0000ff","#0040ff","#009fff","#00ffff","#00ffb3","#00ff66","#00ff1a","#2bff00","#7fff00","#c0ff00","#ffe600","#ff9b00","#ff5500","#ff0000"]}}}},
{"data":{"name":"rticks"},"mark":{"type":"text","align":"right","baseline":"middle","fontSize":43},"encoding":{"x":{"datum":-1.6},"y":{"field":"t","type":"quantitative"},"text":{"field":"t","type":"quantitative","format":"d"}}},
{"mark":{"type":"text","text":"X","fontStyle":"italic"},"encoding":{"x":{"datum":31.04},"y":{"datum":-47.06}}},
{"mark":{"type":"text","text":"/mm"},"encoding":{"x":{"datum":33.52},"y":{"datum":-47.06}}},
{"mark":{"type":"text","text":"(b) 方案B","align":"center"},"encoding":{"x":{"datum":35.9},"y":{"datum":-54.43}}},
{"mark":{"type":"text","text":"R","fontStyle":"italic","angle":270},"encoding":{"x":{"datum":-10.38},"y":{"datum":-5.13}}},
{"mark":{"type":"text","text":"/mm","angle":270},"encoding":{"x":{"datum":-10.38},"y":{"datum":-2.44}}}]},
{"width":65,"height":723,"layer":[
{"data":{"name":"bands"},"mark":{"type":"rect","stroke":"#444","strokeWidth":1},"encoding":{"y":{"field":"lo","type":"quantitative","scale":{"domain":[0.29,72.82],"nice":false,"zero":false},"axis":{"orient":"right","values":[5,10,15,20,25,30,35,40,45,50,55,60,65],"ticks":false,"domain":false,"labelFontSize":42,"labelPadding":18}},"y2":{"field":"hi"},"color":{"field":"v","type":"quantitative","legend":null,"scale":{"type":"threshold","domain":[5,10,15,20,25,30,35,40,45,50,55,60,65],"range":["#0000ff","#0040ff","#009fff","#00ffff","#00ffb3","#00ff66","#00ff1a","#2bff00","#7fff00","#c0ff00","#ffe600","#ff9b00","#ff5500","#ff0000"]}}}},
{"mark":{"type":"text","text":"d","fontStyle":"italic"},"encoding":{"x":{"datum":6,"scale":{"domain":[0,65]},"axis":null},"y":{"datum":70.6}}},
{"mark":{"type":"text","text":"32","fontSize":26},"encoding":{"x":{"datum":28},"y":{"datum":69.7}}},
{"mark":{"type":"text","text":"/μm"},"encoding":{"x":{"datum":54},"y":{"datum":70.6}}}]}]},
{"width":866,"height":698,"view":{"stroke":"black","strokeWidth":3},"resolve":{"scale":{"y":"independent"}},"layer":[
{"layer":[
{"mark":{"type":"rule","stroke":"white"},"encoding":{"x":{"datum":-53.12}}},
{"mark":{"type":"rule","stroke":"white"},"encoding":{"y":{"datum":73.13}}},
{"data":{"name":"lineC"},"encoding":{"x":{"field":"R","type":"quantitative","scale":{"domain":[-36,55],"nice":false},"axis":{"values":[-35,-30,-25,-20,-15,-10,-5,0,5,10,15,20,25,30,35,40,45,50],"labelFontSize":{"condition":{"test":"datum.value%10==0","value":43},"value":1},"tickSize":{"condition":{"test":"datum.value%10==0","value":-11},"value":-6},"labelPadding":26,"labelExpr":"datum.value%10==0?datum.label:''"}},"y":{"field":"d","type":"quantitative","scale":{"domain":[22.45,70],"nice":false,"zero":false},"axis":{"values":[25,27.5,30,32.5,35,37.5,40,42.5,45,47.5,50,52.5,55,57.5,60,62.5,65,67.5,70],"tickSize":{"condition":{"test":"datum.value%5==0","value":-11},"value":-6},"labelPadding":15,"labelExpr":"datum.value%5==0?format(datum.value,'d'):''"}},"color":{"field":"D","type":"nominal","legend":null,"sort":null,"scale":{"domain":["D=5","D=10","D=20","D=40","D=60"],"range":["black","#ff0000","#00ff00","#0000ff","#00ffff"]}}},"layer":[
{"mark":{"type":"line","strokeWidth":5.5,"strokeCap":"round"}},
{"mark":{"type":"point","filled":true,"fill":"white","stroke":"white","strokeWidth":6,"opacity":1},"encoding":{"color":{"value":"white"},"shape":{"field":"D","type":"nominal","legend":null,"scale":{"domain":["D=5","D=10","D=20","D=40","D=60"],"range":["square","circle","triangle-up","triangle-down","diamond"]}},"size":{"field":"D","type":"nominal","legend":null,"scale":{"domain":["D=5","D=10","D=20","D=40","D=60"],"range":[400,520,700,700,800]}}}},
{"mark":{"type":"point","filled":true,"opacity":1},"encoding":{"shape":{"field":"D","type":"nominal","legend":null,"scale":{"domain":["D=5","D=10","D=20","D=40","D=60"],"range":["square","circle","triangle-up","triangle-down","diamond"]}},"size":{"field":"D","type":"nominal","legend":null,"scale":{"domain":["D=5","D=10","D=20","D=40","D=60"],"range":[400,520,700,700,800]}}}}]},
{"mark":{"type":"text","text":"R","fontStyle":"italic"},"encoding":{"x":{"datum":4.02},"y":{"datum":14.38}}},
{"mark":{"type":"text","text":"/mm"},"encoding":{"x":{"datum":6.86},"y":{"datum":14.38}}},
{"mark":{"type":"text","text":"(c) 方案A不同轴向位置","align":"right"},"encoding":{"x":{"datum":18.83},"y":{"datum":9.61}}},
{"mark":{"type":"text","text":"d","fontStyle":"italic"},"encoding":{"x":{"datum":18.83},"y":{"datum":9.61}}},
{"mark":{"type":"text","text":"32","fontSize":26},"encoding":{"x":{"datum":21.14},"y":{"datum":9}}},
{"mark":{"type":"text","text":"沿径向分布","align":"right"},"encoding":{"x":{"datum":46.98},"y":{"datum":9.61}}},
{"mark":{"type":"text","text":"d","fontStyle":"italic","angle":270},"encoding":{"x":{"datum":-46.82},"y":{"datum":44.39}}},
{"mark":{"type":"text","text":"32","fontSize":26,"angle":270},"encoding":{"x":{"datum":-45.87},"y":{"datum":45.89}}},
{"mark":{"type":"text","text":"/μm","angle":270},"encoding":{"x":{"datum":-46.82},"y":{"datum":47.66}}}]},
{"data":{"name":"keys"},"encoding":{"y":{"field":"D","type":"nominal","axis":null,"scale":{"type":"point","padding":0,"domain":["D=5","D=10","D=20","D=40","D=60"],"range":[34,249]}}},"layer":[
{"mark":{"type":"rule","strokeWidth":5.5,"strokeCap":"round"},"encoding":{"x":{"datum":32.28},"x2":{"datum":42.57},"color":{"field":"D","type":"nominal"}}},
{"mark":{"type":"point","filled":true,"fill":"white","stroke":"white","strokeWidth":6,"opacity":1},"encoding":{"x":{"datum":37.42},"shape":{"field":"D","type":"nominal"},"size":{"field":"D","type":"nominal"},"color":{"value":"white"}}},
{"mark":{"type":"point","filled":true,"opacity":1},"encoding":{"x":{"datum":37.42},"shape":{"field":"D","type":"nominal"},"size":{"field":"D","type":"nominal"},"color":{"field":"D","type":"nominal"}}},
{"mark":{"type":"text","text":"D","fontStyle":"italic","baseline":"middle","fontSize":43},"encoding":{"x":{"datum":43.62}}},
{"mark":{"type":"text","baseline":"middle","fontSize":43},"encoding":{"x":{"datum":46.88},"text":{"field":"eq"}}}]}]},
{"width":866,"height":696,"view":{"stroke":"black","strokeWidth":3},"resolve":{"scale":{"y":"independent"}},"layer":[
{"layer":[
{"mark":{"type":"rule","stroke":"white"},"encoding":{"x":{"datum":-52.87}}},
{"mark":{"type":"rule","stroke":"white"},"encoding":{"y":{"datum":71.53}}},
{"data":{"name":"lineD"},"encoding":{"x":{"field":"R","type":"quantitative","scale":{"domain":[-35,60],"nice":false},"axis":{"values":[-30,-25,-20,-15,-10,-5,0,5,10,15,20,25,30,35,40,45,50,55,60],"labelFontSize":{"condition":{"test":"datum.value%10==0","value":43},"value":1},"tickSize":{"condition":{"test":"datum.value%10==0","value":-11},"value":-6},"labelPadding":26,"labelExpr":"datum.value%10==0?datum.label:''"}},"y":{"field":"d","type":"quantitative","scale":{"domain":[12.5,67.5],"nice":false,"zero":false},"axis":{"values":[15,17.5,20,22.5,25,27.5,30,32.5,35,37.5,40,42.5,45,47.5,50,52.5,55,57.5,60,62.5,65],"tickSize":{"condition":{"test":"datum.value%5==0","value":-11},"value":-6},"labelPadding":15,"labelExpr":"datum.value%5==0?format(datum.value,'d'):''"}},"color":{"field":"D","type":"nominal","legend":null,"sort":null,"scale":{"domain":["D=5","D=10","D=20","D=40","D=60"],"range":["black","#ff0000","#00ff00","#0000ff","#00ffff"]}}},"layer":[
{"mark":{"type":"line","strokeWidth":5.5,"strokeCap":"round"}},
{"mark":{"type":"point","filled":true,"fill":"white","stroke":"white","strokeWidth":6,"opacity":1},"encoding":{"color":{"value":"white"},"shape":{"field":"D","type":"nominal","legend":null,"scale":{"domain":["D=5","D=10","D=20","D=40","D=60"],"range":["square","circle","triangle-up","triangle-down","diamond"]}},"size":{"field":"D","type":"nominal","legend":null,"scale":{"domain":["D=5","D=10","D=20","D=40","D=60"],"range":[400,520,700,700,800]}}}},
{"mark":{"type":"point","filled":true,"opacity":1},"encoding":{"shape":{"field":"D","type":"nominal","legend":null,"scale":{"domain":["D=5","D=10","D=20","D=40","D=60"],"range":["square","circle","triangle-up","triangle-down","diamond"]}},"size":{"field":"D","type":"nominal","legend":null,"scale":{"domain":["D=5","D=10","D=20","D=40","D=60"],"range":[400,520,700,700,800]}}}}]},
{"mark":{"type":"text","text":"R","fontStyle":"italic"},"encoding":{"x":{"datum":6.78},"y":{"datum":3.25}}},
{"mark":{"type":"text","text":"/mm"},"encoding":{"x":{"datum":9.74},"y":{"datum":3.25}}},
{"mark":{"type":"text","text":"(d) 方案B不同轴向位置","align":"right"},"encoding":{"x":{"datum":22.24},"y":{"datum":-2.36}}},
{"mark":{"type":"text","text":"d","fontStyle":"italic"},"encoding":{"x":{"datum":22.24},"y":{"datum":-2.36}}},
{"mark":{"type":"text","text":"32","fontSize":26},"encoding":{"x":{"datum":24.65},"y":{"datum":-3.07}}},
{"mark":{"type":"text","text":"沿径向分布","align":"right"},"encoding":{"x":{"datum":51.62},"y":{"datum":-2.36}}},
{"mark":{"type":"text","text":"d","fontStyle":"italic","angle":270},"encoding":{"x":{"datum":-46.29},"y":{"datum":37.78}}},
{"mark":{"type":"text","text":"32","fontSize":26,"angle":270},"encoding":{"x":{"datum":-45.31},"y":{"datum":39.52}}},
{"mark":{"type":"text","text":"/μm","angle":270},"encoding":{"x":{"datum":-46.29},"y":{"datum":41.57}}}]},
{"data":{"name":"keys"},"encoding":{"y":{"field":"D","type":"nominal","axis":null,"scale":{"type":"point","padding":0,"domain":["D=5","D=10","D=20","D=40","D=60"],"range":[30,243]}}},"layer":[
{"mark":{"type":"rule","strokeWidth":5.5,"strokeCap":"round"},"encoding":{"x":{"datum":36.93},"x2":{"datum":46.9},"color":{"field":"D","type":"nominal"}}},
{"mark":{"type":"point","filled":true,"fill":"white","stroke":"white","strokeWidth":6,"opacity":1},"encoding":{"x":{"datum":41.75},"shape":{"field":"D","type":"nominal"},"size":{"field":"D","type":"nominal"},"color":{"value":"white"}}},
{"mark":{"type":"point","filled":true,"opacity":1},"encoding":{"x":{"datum":41.75},"shape":{"field":"D","type":"nominal"},"size":{"field":"D","type":"nominal"},"color":{"field":"D","type":"nominal"}}},
{"mark":{"type":"text","text":"D","fontStyle":"italic","baseline":"middle","fontSize":43},"encoding":{"x":{"datum":47.68}}},
{"mark":{"type":"text","baseline":"middle","fontSize":43},"encoding":{"x":{"datum":51.05},"text":{"field":"eq"}}}]}]}
]}
